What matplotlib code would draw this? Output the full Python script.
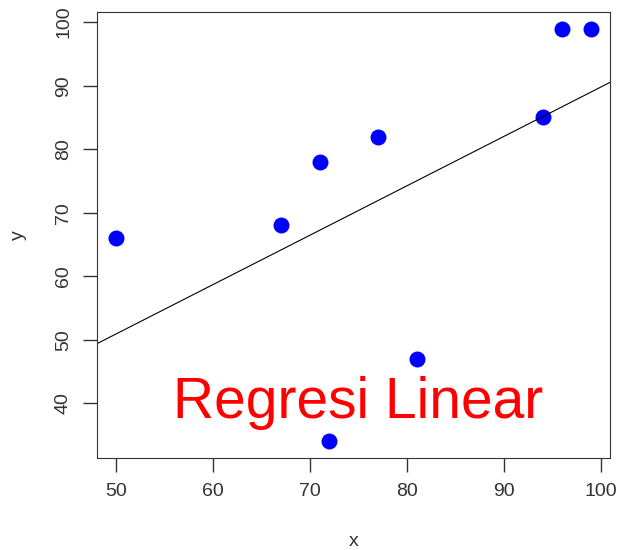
import matplotlib.pyplot as plt
import numpy as np

plt.rcParams['font.family'] = ['Liberation Sans', 'DejaVu Sans']

x = [50, 67, 71, 77, 72, 81, 94, 96, 99]
y = [66, 68, 78, 82, 34, 47, 85, 99, 99]
xticks = [50, 60, 70, 80, 90, 100]
yticks = [40, 50, 60, 70, 80, 90, 100]

fig = plt.figure(figsize=(6.21, 5.5), dpi=100)
ax = fig.add_axes([97/621, 1 - 458/550, 513/621, 446/550])

# R-style 4% padding
xr = max(x) - min(x)
yr = max(y) - min(y)
ax.set_xlim(min(x) - 0.04 * xr, max(x) + 0.04 * xr)
ax.set_ylim(min(y) - 0.04 * yr, max(y) + 0.04 * yr)

ax.plot(x, y, 'o', color='#0000ff', markersize=11.5, markeredgewidth=0)

b, a = np.polyfit(x, y, 1)
xl = np.array(ax.get_xlim())
ax.plot(xl, a + b * xl, color='black', linewidth=0.8)
ax.set_xlim(xl)

ax.text(75, 40, 'Regresi Linear', color='red', fontsize=41,
        ha='center', va='center')

ax.set_xticks(xticks)
ax.set_yticks(yticks)
ax.tick_params(direction='out', length=10, width=1, labelsize=14,
               colors='#333333', pad=8)
for lab in ax.get_yticklabels():
    lab.set_rotation(90)
    lab.set_va('center')
for s in ax.spines.values():
    s.set_color('#333333')
ax.set_xlabel('x', fontsize=14, color='#333333', labelpad=24)
ax.set_ylabel('y', fontsize=14, color='#333333', labelpad=20)

fig.savefig('out.png', dpi=100)
